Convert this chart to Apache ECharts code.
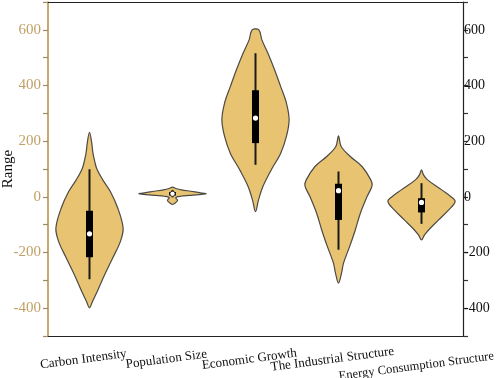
<!DOCTYPE html>
<html>
<head>
<meta charset="utf-8">
<script src="https://cdn.jsdelivr.net/npm/echarts@6/dist/echarts.min.js"></script>
<style>
  html, body { margin: 0; padding: 0; background: #fff; }
  #chart { width: 498px; height: 378px; }
</style>
</head>
<body>
<div id="chart"></div>
<script>
let categories = ["Carbon Intensity", "Population Size", "Economic Growth", "The Industrial Structure", "Energy Consumption Structure"];

// violin outlines: value levels and relative half-width (1 = widest)
let violinValues = [
  [232, 199, 160, 130, 100, 60, 19, -40, -112, -160, -220, -280, -340, -376, -399],
  [35, 30, 25, 20, 15, 11, 8, 5, 2, -1, -5, -12, -20, -27],
  [600, 564, 516, 456, 396, 337, 277, 217, 157, 97, 37, -11, -53],
  [219, 181, 145, 109, 61, 40, 1, -59, -119, -179, -238, -274, -310],
  [97, 79, 61, 25, 1, -17, -47, -83, -113, -137, -155]
];
let violinWidths = [
  [0, 0.06, 0.1, 0.15, 0.22, 0.4, 0.62, 0.84, 1.0, 0.92, 0.69, 0.45, 0.23, 0.09, 0],
  [0, 0.1, 0.27, 0.54, 0.8, 1.0, 0.78, 0.5, 0.24, 0.12, 0.1, 0.15, 0.1, 0],
  [0.1, 0.19, 0.37, 0.57, 0.75, 0.92, 1.0, 0.92, 0.75, 0.47, 0.22, 0.09, 0],
  [0, 0.08, 0.35, 0.7, 0.96, 1.0, 0.85, 0.65, 0.5, 0.33, 0.15, 0.09, 0],
  [0, 0.06, 0.18, 0.6, 0.87, 1.0, 0.81, 0.51, 0.26, 0.09, 0]
];

// [lower whisker, Q1, median, Q3, upper whisker]
let boxStats = [
  [-296, -217, -133, -50, 99],
  [-2, 5, 11, 17, 25],
  [115, 193, 283, 383, 516],
  [-190, -83, 22, 47, 91],
  [-97, -56, -20, -5, 49]
];

let yTicks = { min: -500, max: 700, step: 100, labelStep: 200 };

let font = "Liberation Serif";

function renderViolin(params, api) {
  let i = api.value(0);
  let cx = api.coord([i, 0])[0];
  let band = api.size([1, 0])[0];
  let half = band * 0.405;
  let vals = violinValues[i];
  let w = violinWidths[i];
  let right = [], left = [];
  for (let k = 0; k < vals.length; k++) {
    let y = api.coord([i, vals[k]])[1];
    right.push([cx + w[k] * half, y]);
    if (w[k] > 0) left.push([cx - w[k] * half, y]);
  }
  left.reverse();
  let s = boxStats[i];
  let yLo = api.coord([i, s[0]])[1];
  let yQ1 = api.coord([i, s[1]])[1];
  let yMed = api.coord([i, s[2]])[1];
  let yQ3 = api.coord([i, s[3]])[1];
  let yHi = api.coord([i, s[4]])[1];
  let bw = 7;
  return {
    type: "group",
    children: [
      {
        type: "polygon",
        shape: { points: right.concat(left), smooth: 0.35 },
        style: { fill: "#E7C372", stroke: "#4d4a44", lineWidth: 1.2 }
      },
      {
        type: "line",
        shape: { x1: cx, y1: yHi, x2: cx, y2: yLo },
        style: { stroke: "#1a1a1a", lineWidth: 2 }
      },
      {
        type: "rect",
        shape: { x: cx - bw / 2, y: yQ3, width: bw, height: Math.max(yQ1 - yQ3, 1) },
        style: { fill: "#000" }
      },
      {
        type: "circle",
        shape: { cx: cx, cy: yMed, r: 2.6 },
        style: { fill: "#fff", stroke: i === 1 ? "#333" : null, lineWidth: 1 }
      }
    ]
  };
}

let option = {
  animation: false,
  grid: { left: 48, right: 35, top: 2, bottom: 42, containLabel: false, outerBoundsMode: "none" },
  xAxis: [
    {
      type: "category",
      position: "bottom",
      data: categories,
      axisLine: { onZero: false, lineStyle: { color: "#222", width: 1.2 } },
      axisTick: { alignWithLabel: true, length: 6, lineStyle: { color: "#333", width: 1.2 } },
      axisLabel: {
        interval: 0,
        rotate: 7.5,
        align: "center",
        verticalAlign: "top",
        margin: 16,
        color: "#111",
        fontFamily: font,
        fontSize: 13,
        padding: [0, 14, 0, 0],
        formatter: function (v, idx) {
          return idx === 4 ? "{e|" + v + "}" : "{n|" + v + "}";
        },
        rich: {
          n: { fontFamily: font, fontSize: 13, color: "#111", lineHeight: 13 },
          e: { fontFamily: font, fontSize: 12.6, color: "#111", lineHeight: 27 }
        }
      }
    },
    {
      type: "category",
      position: "top",
      data: categories,
      axisLine: { onZero: false, lineStyle: { color: "#222", width: 1.2 } },
      axisTick: { alignWithLabel: true, inside: true, length: 6, lineStyle: { color: "#333", width: 1.2 } },
      axisLabel: { show: false }
    }
  ],
  yAxis: [
    {
      type: "value",
      position: "left",
      min: yTicks.min,
      max: yTicks.max,
      interval: yTicks.step,
      name: "Range",
      nameLocation: "middle",
      nameRotate: 90,
      nameGap: 32,
      nameMoveOverlap: false,
      nameTextStyle: { fontFamily: font, fontSize: 15, color: "#111" },
      axisLine: { show: true, lineStyle: { color: "#B98A3C", width: 1.5 } },
      axisTick: { show: true, length: 5, lineStyle: { color: "#9a8a6a", width: 1.2 } },
      splitLine: { show: false },
      axisLabel: {
        margin: 7,
        color: "#C1A064",
        fontFamily: font,
        fontSize: 15,
        formatter: function (v) { return v % yTicks.labelStep === 0 ? v : ""; }
      }
    },
    {
      type: "value",
      position: "right",
      min: yTicks.min,
      max: yTicks.max,
      interval: yTicks.step,
      axisLine: { show: true, lineStyle: { color: "#222", width: 1.2 } },
      axisTick: { show: true, length: 5, lineStyle: { color: "#333", width: 1.2 } },
      splitLine: { show: false },
      axisLabel: {
        margin: 1,
        color: "#111",
        fontFamily: font,
        fontSize: 14,
        formatter: function (v) { return v % yTicks.labelStep === 0 ? v : ""; }
      }
    }
  ],
  series: [
    {
      type: "custom",
      xAxisIndex: 0,
      yAxisIndex: 0,
      renderItem: renderViolin,
      encode: { x: 0 },
      data: categories.map(function (c, i) { return [i]; })
    }
  ]
};

let violinChart = echarts.init(document.getElementById("chart"));
violinChart.setOption(option);
</script>
</body>
</html>
